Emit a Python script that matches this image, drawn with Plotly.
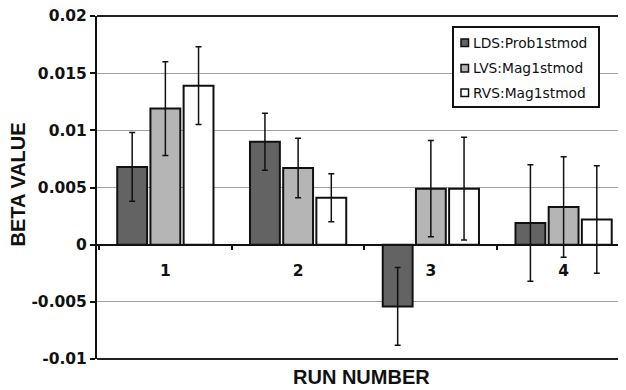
import plotly.graph_objects as go

# ---- data ----
runs = ["1", "2", "3", "4"]
series_names = ["LDS:Prob1stmod", "LVS:Mag1stmod", "RVS:Mag1stmod"]
lds_vals = [0.0068, 0.0090, -0.0054, 0.0019]
lvs_vals = [0.0119, 0.0067, 0.0049, 0.0033]
rvs_vals = [0.0139, 0.0041, 0.0049, 0.0022]
lds_err = [0.0030, 0.0025, 0.0034, 0.0051]
lvs_err = [0.0041, 0.0026, 0.0042, 0.0044]
rvs_err = [0.0034, 0.0021, 0.0045, 0.0047]
y_tickvals = [0.02, 0.015, 0.01, 0.005, 0, -0.005, -0.01]
y_ticktext = ["0.02", "0.015", "0.01", "0.005", "0", "-0.005", "-0.01"]

colors = ["#636363", "#b5b5b5", "#ffffff"]
values = [lds_vals, lvs_vals, rvs_vals]
errors = [lds_err, lvs_err, rvs_err]

# page body has an 8px default margin, so the figure is shifted by OFF
OFF = 8
W, H = 626 - OFF, 390 - OFF
L, T = 97 - OFF, 16 - OFF
R = 0
B = H - (359 - OFF)
PW, PH = W - L - R, H - T - B


def px(x):
    return (x - OFF - L) / PW


def py(y):
    return (H - B - (y - OFF)) / PH


fig = go.Figure()
for name, vals, err, col in zip(series_names, values, errors, colors):
    fig.add_trace(go.Bar(
        x=runs, y=vals, name=name, showlegend=False,
        marker=dict(color=col, line=dict(color="#111111", width=2)),
        error_y=dict(type="data", array=err, visible=True,
                     color="#111111", thickness=1.5, width=3),
    ))

tick_font = dict(family="DejaVu Sans", size=15.5, color="#111111", weight="bold")

fig.update_layout(
    width=W, height=H,
    margin=dict(l=L, r=R, t=T, b=B, pad=0, autoexpand=False),
    paper_bgcolor="white", plot_bgcolor="white",
    barmode="group", bargap=0.25, bargroupgap=0.1,
    xaxis=dict(
        type="category", range=[-0.515, 3.47], automargin=False,
        anchor="free", position=1/3,
        showline=True, linecolor="#111111", linewidth=2,
        ticks="outside", tickson="boundaries", ticklen=4, tickwidth=1.5,
        tickcolor="#111111", showgrid=False,
        tickfont=tick_font, ticklabelstandoff=12,
    ),
    yaxis=dict(
        range=[-0.01, 0.02], tickvals=y_tickvals, ticktext=y_ticktext,
        automargin=False, ticklabeloverflow="allow",
        showline=True, linecolor="#111111", linewidth=2,
        ticks="outside", ticklen=5, tickwidth=2, tickcolor="#111111",
        showgrid=True, gridcolor="#a0a0a0", gridwidth=1.3,
        zeroline=False, tickfont=tick_font,
    ),
)

# top and bottom frame lines
for yv in [1, 0]:
    fig.add_shape(type="line", xref="paper", yref="paper", x0=0, x1=1, y0=yv, y1=yv,
                  line=dict(color="#222222", width=2), layer="above")

# axis titles
fig.add_annotation(text="BETA VALUE", xref="paper", yref="paper",
                   x=px(17.5), y=py(185), xanchor="center", yanchor="middle",
                   textangle=-90, showarrow=False,
                   font=dict(family="Liberation Sans", size=20, color="#111111", weight="bold"))
fig.add_annotation(text="RUN NUMBER", xref="paper", yref="paper",
                   x=px(361.5), y=py(377), xanchor="center", yanchor="middle",
                   showarrow=False,
                   font=dict(family="Liberation Sans", size=20, color="#111111", weight="bold"))

# legend box drawn manually
fig.add_shape(type="rect", xref="paper", yref="paper",
              x0=px(453), x1=px(599), y0=py(107), y1=py(27),
              line=dict(color="#111111", width=2), fillcolor="white", layer="above")
item_y = [42.7, 68.3, 92.7]
for name, col, yc in zip(series_names, colors, item_y):
    fig.add_shape(type="rect", xref="paper", yref="paper",
                  x0=px(461), x1=px(468.5), y0=py(yc + 3.8), y1=py(yc - 3.8),
                  line=dict(color="#111111", width=1.5), fillcolor=col, layer="above")
    fig.add_annotation(text=name, xref="paper", yref="paper",
                       x=px(470.5), y=py(yc), xanchor="left", yanchor="middle",
                       showarrow=False,
                       font=dict(family="DejaVu Sans", size=13.8, color="#111111"))

fig.write_html("out.html")
